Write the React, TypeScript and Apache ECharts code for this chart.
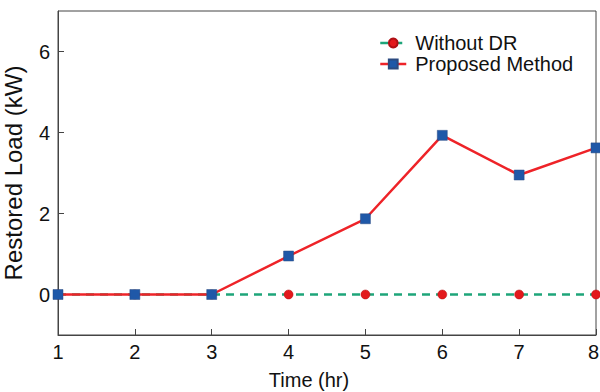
import React, { useEffect, useRef } from "react";
import * as echarts from "echarts";

const hours = [1, 2, 3, 4, 5, 6, 7, 8];
const withoutDR = [0, 0, 0, 0, 0, 0, 0, 0];
const proposed = [0, 0, 0, 0.95, 1.87, 3.93, 2.95, 3.62];
const yTicks = [0, 2, 4, 6];
const seriesNames = ["Without DR", "Proposed Method"];

export default function App() {
  const ref = useRef<HTMLDivElement>(null);
  useEffect(() => {
    if (!ref.current) return;
    const chart = echarts.init(ref.current, null, { renderer: "svg" });
    const font = "'Liberation Sans', Arial, sans-serif";
    const axisColor = "#444";
    chart.setOption({
      animation: false,
      textStyle: { fontFamily: font },
      grid: {
        left: 58,
        right: 4,
        top: 11,
        bottom: 57,
        outerBoundsMode: "none",
        containLabel: false,
        show: true,
        borderColor: axisColor,
        borderWidth: 1,
      },
      legend: {
        left: 374,
        top: 28,
        orient: "vertical",
        itemWidth: 26,
        itemHeight: 11,
        itemGap: 1,
        data: seriesNames,
        lineStyle: { width: 2.5 },
        textStyle: {
          fontSize: 20,
          lineHeight: 20,
          color: "#111",
          fontFamily: font,
          padding: [0, 0, 0, 4],
        },
      },
      xAxis: {
        type: "value",
        min: 1,
        max: 8,
        interval: 1,
        name: "Time (hr)",
        nameLocation: "middle",
        nameGap: 35,
        nameTextStyle: { fontSize: 20, color: "#111", padding: [0, 36, 0, 0] },
        axisLine: { show: true, onZero: false, lineStyle: { color: axisColor, width: 1 } },
        axisTick: { show: true, inside: true, length: 6, lineStyle: { color: axisColor } },
        axisLabel: {
          fontSize: 20,
          color: "#111",
          margin: 7,
          formatter: (v: number) => (v === 8 ? "{r|" + v + "}" : String(v)),
          rich: { r: { fontSize: 20, color: "#111", padding: [0, 5, 0, 0] } },
        },
        splitLine: { show: false },
      },
      yAxis: {
        type: "value",
        min: -1,
        max: 7,
        name: "Restored Load (kW)",
        nameLocation: "middle",
        nameGap: 33,
        nameTextStyle: { fontSize: 24, color: "#111" },
        axisLine: { show: true, onZero: false, lineStyle: { color: axisColor, width: 1 } },
        axisTick: {
          show: true,
          inside: true,
          length: 6,
          customValues: yTicks,
          lineStyle: { color: axisColor },
        },
        axisLabel: { fontSize: 20, color: "#111", margin: 8, customValues: yTicks },
        splitLine: { show: false },
      },
      series: [
        {
          name: seriesNames[0],
          type: "line",
          data: hours.map((h, i) => [h, withoutDR[i]]),
          symbol: "circle",
          symbolSize: 9,
          itemStyle: { color: "#e3191c", borderColor: "#b01015", borderWidth: 0.5 },
          lineStyle: { color: "#1ea57a", width: 2.5, type: [8, 6] },
          clip: true,
        },
        {
          name: seriesNames[1],
          type: "line",
          data: hours.map((h, i) => [h, proposed[i]]),
          symbol: "rect",
          symbolSize: 10,
          itemStyle: { color: "#1f58a8", borderColor: "#2b4a80", borderWidth: 0.5 },
          lineStyle: { color: "#ee2328", width: 2.5 },
          clip: true,
        },
      ],
    });
    return () => chart.dispose();
  }, []);
  return <div ref={ref} style={{ width: 600, height: 392, position: "absolute", left: 0, top: 0 }} />;
}
